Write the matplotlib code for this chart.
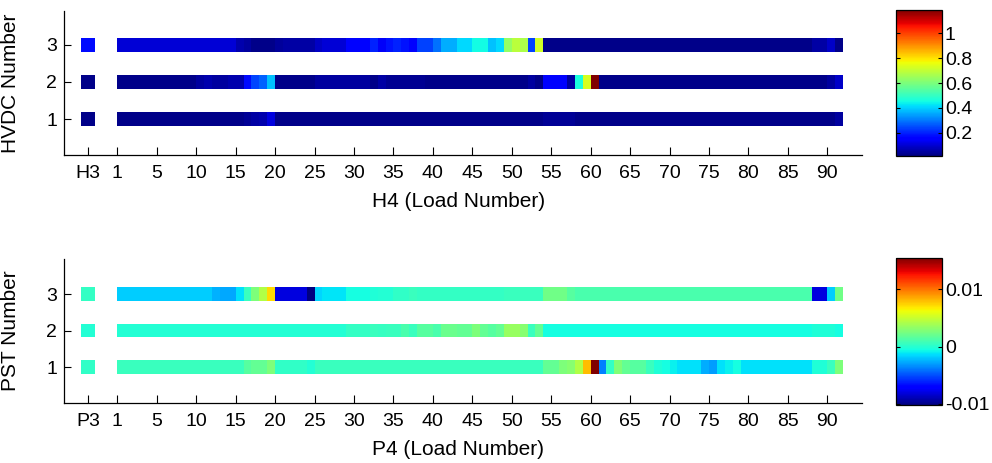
import numpy as np
import matplotlib
matplotlib.use("Agg")
import matplotlib.pyplot as plt
from matplotlib.colors import Normalize

plt.rcParams['font.family'] = ['Liberation Sans', 'DejaVu Sans']

# ---- data ----
rows = [1, 2, 3]
load_ticks = [1, 5, 10, 15, 20, 25, 30, 35, 40, 45, 50, 55, 60, 65, 70, 75, 80, 85, 90]

# HVDC sensitivity, first cell is H3, then one value per load cell
hvdc_h3 = [0.025, 0.025, 0.17]
hvdc1 = ([0.025] * 16 + [0.04, 0.05, 0.06, 0.11] + [0.025] * 34 + [0.04] * 4
         + [0.025] * 33 + [0.045])
hvdc2 = ([0.025] * 10 + [0.045, 0.06, 0.045, 0.045, 0.06, 0.06, 0.17, 0.24, 0.27, 0.38]
         + [0.025] * 5 + [0.045] * 7 + [0.025, 0.05] + [0.035] * 5 + [0.025] * 13
         + [0.045, 0.025] + [0.16] * 3 + [0.045, 0.46, 0.73, 1.186] + [0.025] * 29
         + [0.045, 0.09])
hvdc3 = ([0.10] * 15 + [0.06, 0.045] + [0.025] * 3 + [0.043] + [0.05] * 4 + [0.085]
         + [0.10] * 3 + [0.16] * 3 + [0.197, 0.14, 0.18, 0.197, 0.18, 0.16]
         + [0.237] * 2 + [0.29] + [0.36] * 2 + [0.41] * 2 + [0.45] * 2
         + [0.38, 0.41, 0.635, 0.69, 0.67, 0.237, 0.72] + [0.025] * 34
         + [0.05] * 2 + [0.09, 0.025])

# PST sensitivity, first cell is P3
pst_p3 = [0.0003, -0.0001, 0.0004]
pst1 = ([0.0006] * 16 + [0.0015] + [0.0019] * 2 + [0.0027] + [0.0003] * 4 + [-0.0001]
        + [0.0006] * 29 + [0.0019] * 2
        + [0.0027, 0.003, 0.0043, 0.0080, 0.0154, -0.0037, 0.0004, 0.0028, 0.0019]
        + [0.0015] * 2 + [0.0006, -0.0002, -0.0005, -0.0009] + [-0.0013] * 3
        + [-0.0026, -0.003, -0.0013, -0.0009, -0.0005] + [-0.0013] * 9
        + [-0.0002] * 2 + [0.0006, 0.0027])
pst2 = ([-0.0001] * 29 + [0.0004] * 3
        + [0.0006, 0.0005, 0.0006, 0.0006, 0.0011, 0.0006, 0.0015, 0.0015, 0.0011]
        + [0.0021] * 2 + [0.0019] * 2 + [0.0027, 0.0019, 0.0015, 0.0019]
        + [0.0035] * 2 + [0.003, 0.0006, 0.0019] + [-0.0005] * 34
        + [-0.0002] * 3 + [-0.0005])
pst3 = ([-0.0018] * 12 + [-0.0025] + [-0.0027] * 2
        + [-0.0013, 0.0006, 0.0027, 0.0043, 0.0072] + [-0.0080] * 4
        + [-0.0101, -0.0016] + [-0.0012] * 3 + [-0.0005] * 3 + [-0.0002]
        + [-0.0001] * 2 + [0.0003] * 2 + [0.0006] + [0.0004] * 11 + [0.0006] * 5
        + [0.0023] * 3 + [0.0015] + [0.0011] * 30 + [-0.0080] * 2 + [-0.0018, 0.0023])

hvdc = [hvdc1, hvdc2, hvdc3]
pst = [pst1, pst2, pst3]

W, H = 992, 463
fig = plt.figure(figsize=(W / 100, H / 100), dpi=100)


def px_box(left, top, right, bottom):
    return [left / W, 1 - bottom / H, (right - left) / W, (bottom - top) / H]


def draw_panel(ax, first, series, prefix, ylabel, norm, ylim, bar_h):
    n = len(series[0])
    edges = np.arange(0, n + 1)
    first_edges = [-4.6, -2.83]
    for r, vals, v0 in zip(rows, series, first):
        y_edges = [r - bar_h / 2, r + bar_h / 2]
        ax.pcolormesh(first_edges, y_edges, [[v0]], cmap='jet', norm=norm)
        m = ax.pcolormesh(edges, y_edges, [vals], cmap='jet', norm=norm)
    ax.set_xlim(-6.76, 94.4)
    ax.set_ylim(*ylim)
    for s in ['top', 'right']:
        ax.spines[s].set_visible(False)
    for s in ['left', 'bottom']:
        ax.spines[s].set_linewidth(0.9)
    xt = [np.mean(first_edges), 0] + load_ticks[1:]
    ax.set_xticks(xt)
    ax.set_xticklabels([prefix + '3'] + [str(t) for t in load_ticks])
    ax.set_yticks(rows)
    ax.tick_params(axis='x', direction='in', length=6, pad=7, labelsize=14)
    ax.tick_params(axis='y', direction='in', length=5, pad=5, labelsize=14)
    ax.set_xlabel(prefix + '4 (Load Number)', fontsize=15)
    ax.set_ylabel(ylabel, fontsize=15)
    ax.xaxis.set_label_coords(0.494, -0.26)
    ax.yaxis.set_label_coords(-0.055, 0.5)
    return m


def draw_cbar(m, box, ticks, labels):
    cax = fig.add_axes(box)
    cb = fig.colorbar(m, cax=cax)
    cb.set_ticks(ticks)
    cb.set_ticklabels(labels)
    cb.outline.set_linewidth(0.9)
    cax.tick_params(direction='in', left=True, right=True, length=3, pad=2, labelsize=14)


ax1 = fig.add_axes(px_box(64, 11, 862, 155))
m1 = draw_panel(ax1, hvdc_h3, hvdc, 'H', 'HVDC Number',
                Normalize(0.0125, 1.1875), (0.03, 3.91), 0.385)
draw_cbar(m1, px_box(896, 10, 942, 156),
          [0.2, 0.4, 0.6, 0.8, 1.0], ['0.2', '0.4', '0.6', '0.8', '1'])

ax2 = fig.add_axes(px_box(64, 259, 862, 403))
m2 = draw_panel(ax2, pst_p3, pst, 'P', 'PST Number',
                Normalize(-0.0102, 0.0155), (0.014, 3.96), 0.38)
draw_cbar(m2, px_box(896, 258, 942, 405),
          [-0.01, 0, 0.01], ['-0.01', '0', '0.01'])

fig.savefig('out.png', dpi=100)
